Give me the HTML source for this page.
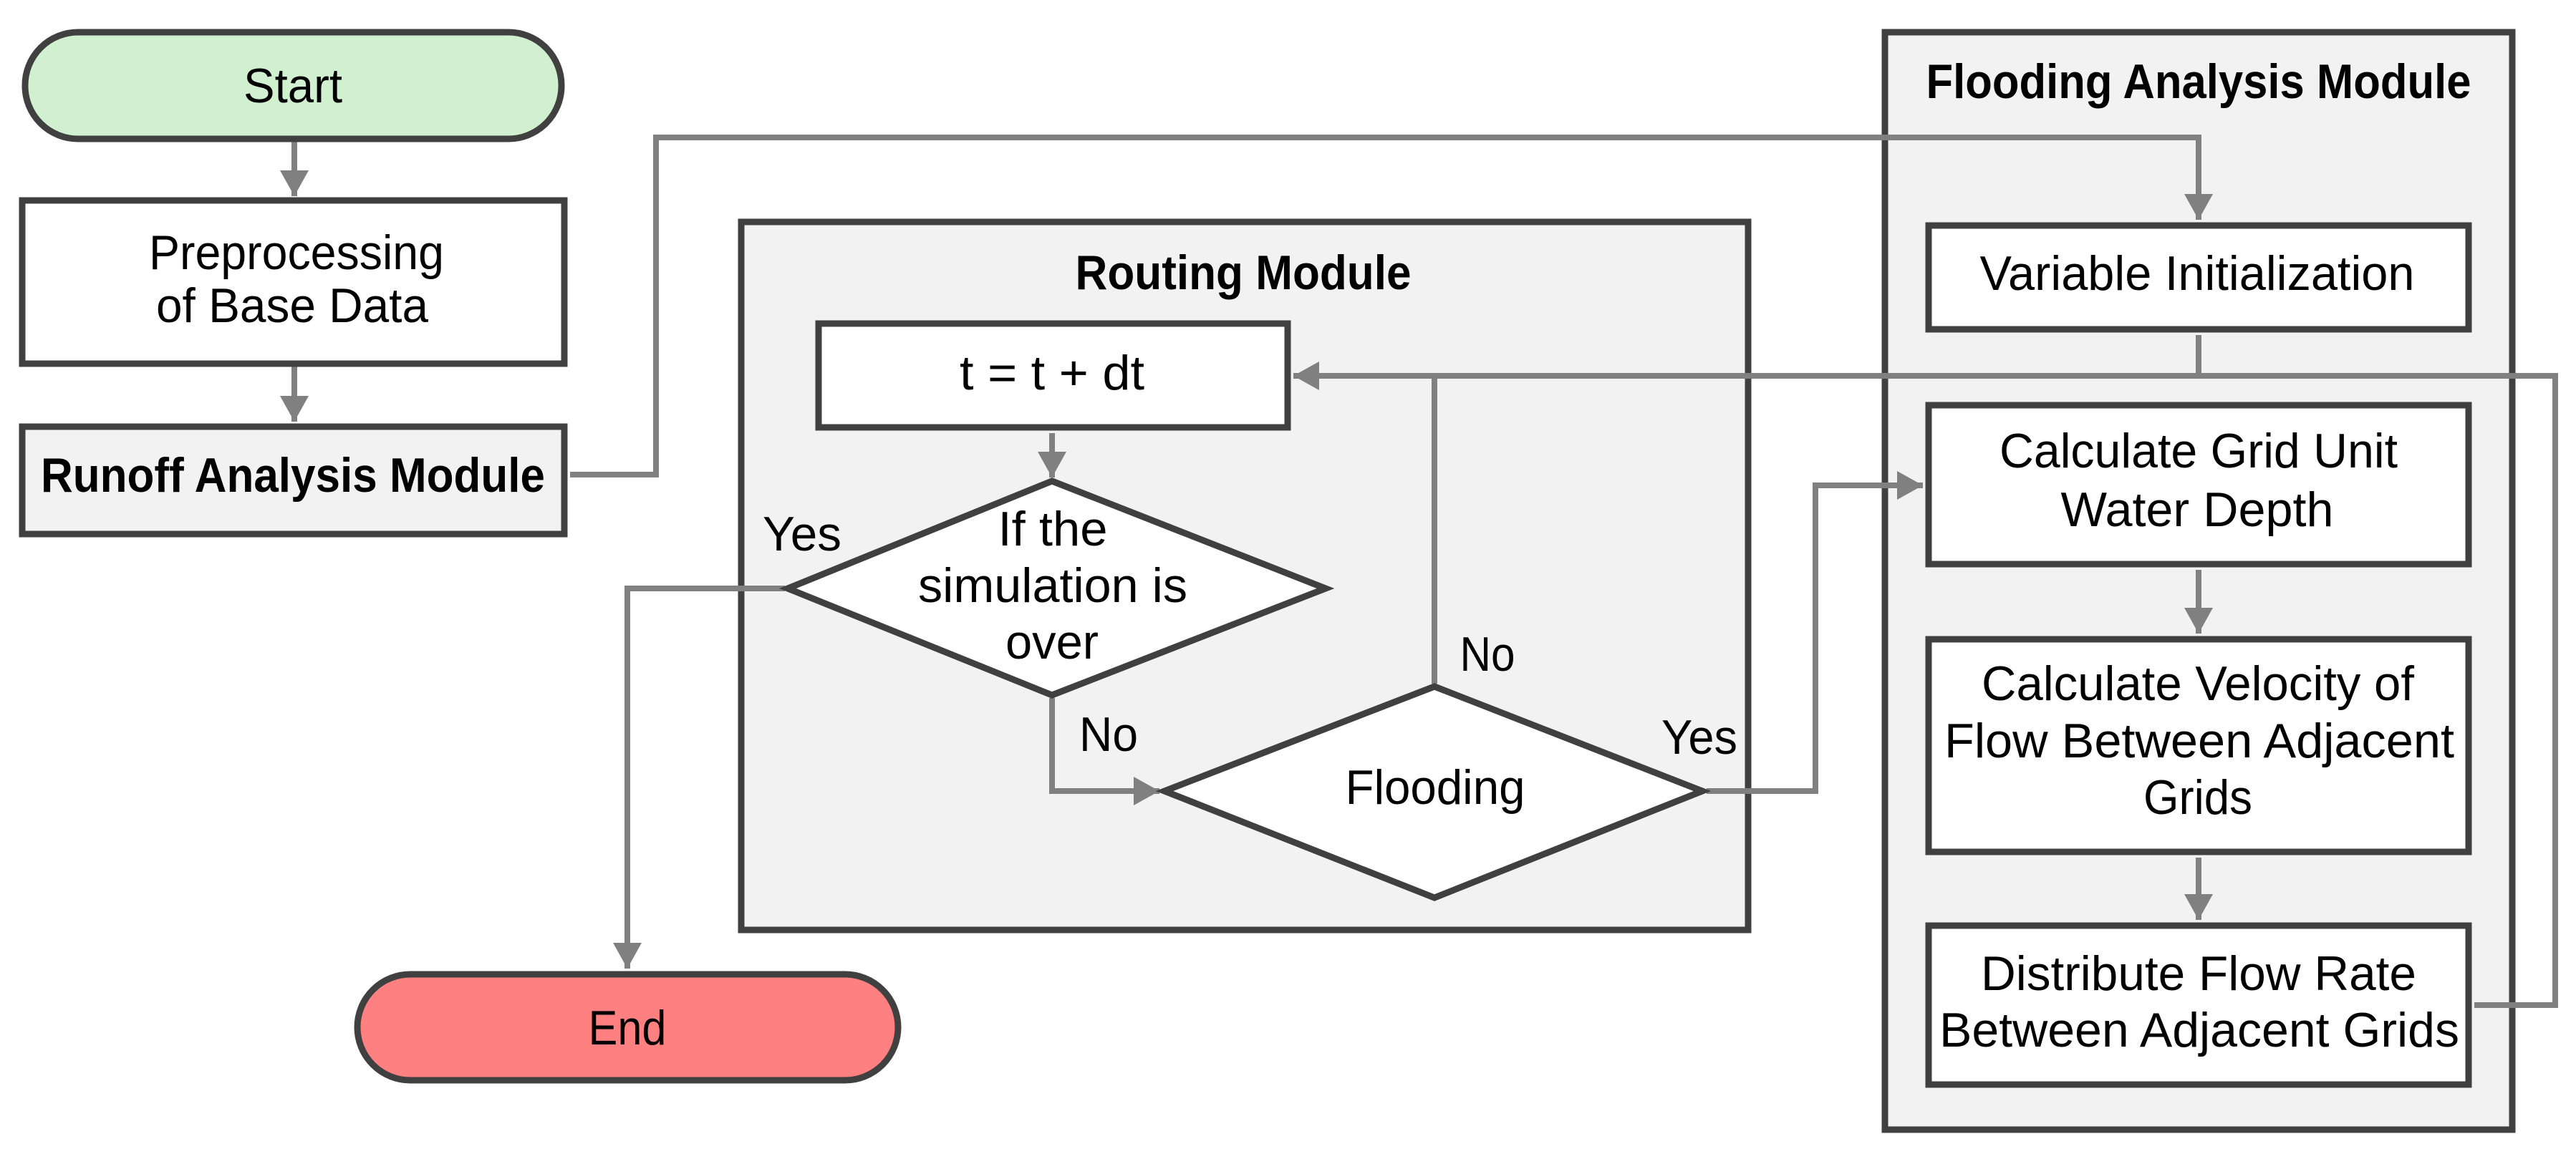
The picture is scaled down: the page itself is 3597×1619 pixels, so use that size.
<!DOCTYPE html>
<html><head><meta charset="utf-8"><style>
html,body{margin:0;padding:0;background:#fff;}
svg{display:block;}
text{font-family:"Liberation Sans",sans-serif;font-size:68px;fill:#000;}
</style></head><body>
<svg width="3597" height="1619" viewBox="0 0 3597 1619" xmlns="http://www.w3.org/2000/svg">
<defs>
<marker id="a" markerUnits="userSpaceOnUse" markerWidth="40" markerHeight="40" refX="36" refY="20" orient="auto">
<path d="M0,0 L36,20 L0,40 Z" fill="#808080"/>
</marker>
</defs>
<rect x="1035" y="310" width="1406" height="989" fill="#f2f2f2" stroke="#404040" stroke-width="9"/>
<rect x="2632" y="45" width="876" height="1533" fill="#f2f2f2" stroke="#404040" stroke-width="9"/>

<g fill="none" stroke="#808080" stroke-width="8">
<line x1="411" y1="198" x2="411" y2="274" marker-end="url(#a)"/>
<line x1="411" y1="512" x2="411" y2="589" marker-end="url(#a)"/>
<polyline points="796,663 916,663 916,192 3070,192 3070,307" marker-end="url(#a)"/>
<line x1="1469" y1="605" x2="1469" y2="667" marker-end="url(#a)"/>
<polyline points="1096,822 876,822 876,1353" marker-end="url(#a)"/>
<polyline points="1469,975 1469,1105 1619,1105" marker-end="url(#a)"/>
<polyline points="2003,955 2003,525"/>
<polyline points="3455,1404 3568,1404 3568,525 1806,525" marker-end="url(#a)"/>
<line x1="3070" y1="468" x2="3070" y2="525"/>
<polyline points="2383,1105 2535,1105 2535,678 2685,678" marker-end="url(#a)"/>
<line x1="3070" y1="796" x2="3070" y2="885" marker-end="url(#a)"/>
<line x1="3070" y1="1198" x2="3070" y2="1285" marker-end="url(#a)"/>
</g>

<g stroke="#404040" stroke-width="9">
<rect x="35" y="45" width="749" height="149" rx="74" fill="#d0f0d0"/>
<rect x="31" y="280" width="757" height="228" fill="#fff"/>
<rect x="31" y="596" width="757" height="150" fill="#f2f2f2"/>
<rect x="499" y="1361" width="755" height="148" rx="74" fill="#ff8080"/>
<rect x="1143" y="452" width="655" height="145" fill="#fff"/>
<polygon points="1469,672 1851,822 1469,971 1100,822" fill="#fff"/>
<polygon points="2003,959 2377,1105 2003,1254 1626,1105" fill="#fff"/>
<rect x="2693" y="315" width="754" height="145" fill="#fff"/>
<rect x="2693" y="566" width="754" height="222" fill="#fff"/>
<rect x="2693" y="893" width="754" height="297" fill="#fff"/>
<rect x="2693" y="1293" width="754" height="222" fill="#fff"/>
</g>

<g text-anchor="middle">
<text x="409" y="143" textLength="138" lengthAdjust="spacingAndGlyphs">Start</text>
<text x="414" y="376" textLength="412" lengthAdjust="spacingAndGlyphs">Preprocessing</text>
<text x="408" y="450" textLength="380" lengthAdjust="spacingAndGlyphs">of Base Data</text>
<text x="409" y="687" textLength="704" lengthAdjust="spacingAndGlyphs" style="font-weight:bold">Runoff Analysis Module</text>
<text x="876" y="1459" textLength="109" lengthAdjust="spacingAndGlyphs">End</text>
<text x="1736" y="404" textLength="469" lengthAdjust="spacingAndGlyphs" style="font-weight:bold">Routing Module</text>
<text x="1469" y="544" textLength="258" lengthAdjust="spacingAndGlyphs">t = t + dt</text>
<text x="1470" y="762" textLength="153" lengthAdjust="spacingAndGlyphs">If the</text>
<text x="1470" y="841" textLength="376" lengthAdjust="spacingAndGlyphs">simulation is</text>
<text x="1469" y="920" textLength="130" lengthAdjust="spacingAndGlyphs">over</text>
<text x="2004" y="1123" textLength="251" lengthAdjust="spacingAndGlyphs">Flooding</text>
<text x="1120" y="769" textLength="110" lengthAdjust="spacingAndGlyphs">Yes</text>
<text x="1548" y="1049" textLength="82" lengthAdjust="spacingAndGlyphs">No</text>
<text x="2077" y="937" textLength="77" lengthAdjust="spacingAndGlyphs">No</text>
<text x="2373" y="1053" textLength="106" lengthAdjust="spacingAndGlyphs">Yes</text>
<text x="3070" y="137" textLength="761" lengthAdjust="spacingAndGlyphs" style="font-weight:bold">Flooding Analysis Module</text>
<text x="3068" y="405" textLength="607" lengthAdjust="spacingAndGlyphs">Variable Initialization</text>
<text x="3070" y="653" textLength="556" lengthAdjust="spacingAndGlyphs">Calculate Grid Unit</text>
<text x="3068" y="735" textLength="381" lengthAdjust="spacingAndGlyphs">Water Depth</text>
<text x="3069" y="978" textLength="604" lengthAdjust="spacingAndGlyphs">Calculate Velocity of</text>
<text x="3071" y="1058" textLength="712" lengthAdjust="spacingAndGlyphs">Flow Between Adjacent</text>
<text x="3069" y="1137" textLength="152" lengthAdjust="spacingAndGlyphs">Grids</text>
<text x="3070" y="1383" textLength="608" lengthAdjust="spacingAndGlyphs">Distribute Flow Rate</text>
<text x="3071" y="1462" textLength="726" lengthAdjust="spacingAndGlyphs">Between Adjacent Grids</text>
</g>
</svg>
</body></html>
